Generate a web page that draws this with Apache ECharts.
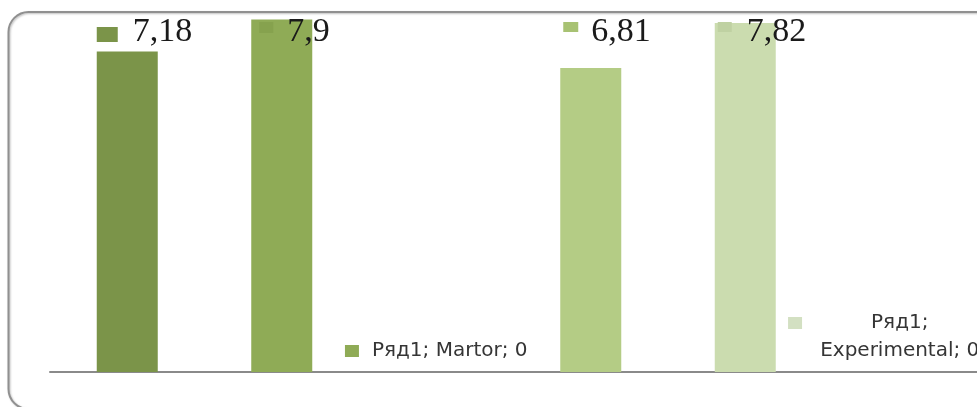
<!DOCTYPE html>
<html>
<head>
<meta charset="utf-8">
<script src="https://cdn.jsdelivr.net/npm/echarts@6/dist/echarts.min.js"></script>
<style>html,body{margin:0;padding:0;background:#fff}#c{width:977px;height:407px}</style>
</head>
<body>
<div id="c"></div>
<script>
const seriesName = 'Ряд1';
const categories = ['1', '2', 'Martor', '3', '4', 'Experimental'];
const values = [7.18, 7.9, 0, 6.81, 7.82, 0];
const yMax = 8;

const barColors = ['#7b9449', '#8fab56', '#8fab56', '#b4cc85', '#cbdcaf', '#cbdcaf'];
const keyColors = ['#7b9449', '#86a24e', '#8fab56', '#a8c273', '#bfd1a2', '#d3e0c2'];
// value-label layout styles: [dx, keyW, keyH, gap, keyAlign]
const valueLabelStyle = [[0, 21, 15, 15, 'bottom'], [8, 14, 11, 14, 'top'], null, [3, 15, 10, 13, 'top'], [3, 14, 10, 15, 'top'], null];

const fmt = v => String(v).replace('.', ',');

const chart = echarts.init(document.getElementById('c'));

const mainData = values.map((v, i) => {
  const item = { value: v, itemStyle: { color: barColors[i] } };
  if (v === 0) {
    const full = `${seriesName}; ${categories[i]}; ${fmt(v)}`;
    let formatter;
    if (categories[i].length > 8) {
      formatter = `{k|}{s1|}${seriesName};{s2|}\n${categories[i]}; ${fmt(v)}`;
    } else {
      formatter = `{k|}{g|}${full}`;
    }
    item.label = {
      show: true,
      position: 'top',
      distance: 7,
      align: 'center',
      formatter: formatter,
      fontFamily: 'DejaVu Sans',
      fontSize: 20,
      lineHeight: 28,
      color: '#353535',
      rich: {
        k: { width: 14, height: 12, backgroundColor: keyColors[i] },
        g: { width: 13 },
        s1: { width: 69 },
        s2: { width: 83 }
      }
    };
  }
  return item;
});

const topData = values.map((v, i) => {
  if (v === 0) return { value: '-' };
  const st = valueLabelStyle[i];
  return {
    value: +(yMax - v).toFixed(4),
    label: {
      show: true,
      position: [st[0], 7],
      align: 'left',
      verticalAlign: 'top',
      lineHeight: 20,
      formatter: `{k|}{g|}{t|${fmt(v)}}`,
      rich: {
        k: { width: st[1], height: st[2], lineHeight: 20, backgroundColor: keyColors[i], verticalAlign: st[4] },
        g: { width: st[3], lineHeight: 20 },
        t: { fontFamily: 'Liberation Serif', fontSize: 34, lineHeight: 20, verticalAlign: 'middle', color: '#1a1a1a' }
      }
    }
  };
});

chart.setOption({
  animation: false,
  backgroundColor: '#ffffff',
  graphic: [{
    type: 'rect',
    z: -10,
    shape: { x: 8.5, y: 12, width: 1000, height: 397, r: 20 },
    style: { fill: 'none', stroke: '#909090', lineWidth: 2, shadowColor: 'rgba(0,0,0,0.25)', shadowBlur: 2, shadowOffsetX: 1, shadowOffsetY: 1 }
  }],
  grid: { left: 50, right: -3, top: 15, bottom: 35 },
  xAxis: {
    type: 'category',
    data: categories,
    axisLine: { lineStyle: { color: '#8a8a8a', width: 2 } },
    axisTick: { show: false },
    axisLabel: { show: false }
  },
  yAxis: {
    type: 'value', min: 0, max: yMax, show: false,
    splitLine: { show: false }
  },
  series: [
    {
      name: seriesName, type: 'bar', stack: 's', barWidth: 61,
      data: mainData
    },
    {
      name: 'top', type: 'bar', stack: 's', barWidth: 61, silent: true,
      itemStyle: { color: 'rgba(0,0,0,0)' },
      data: topData
    }
  ]
});
</script>
</body>
</html>
